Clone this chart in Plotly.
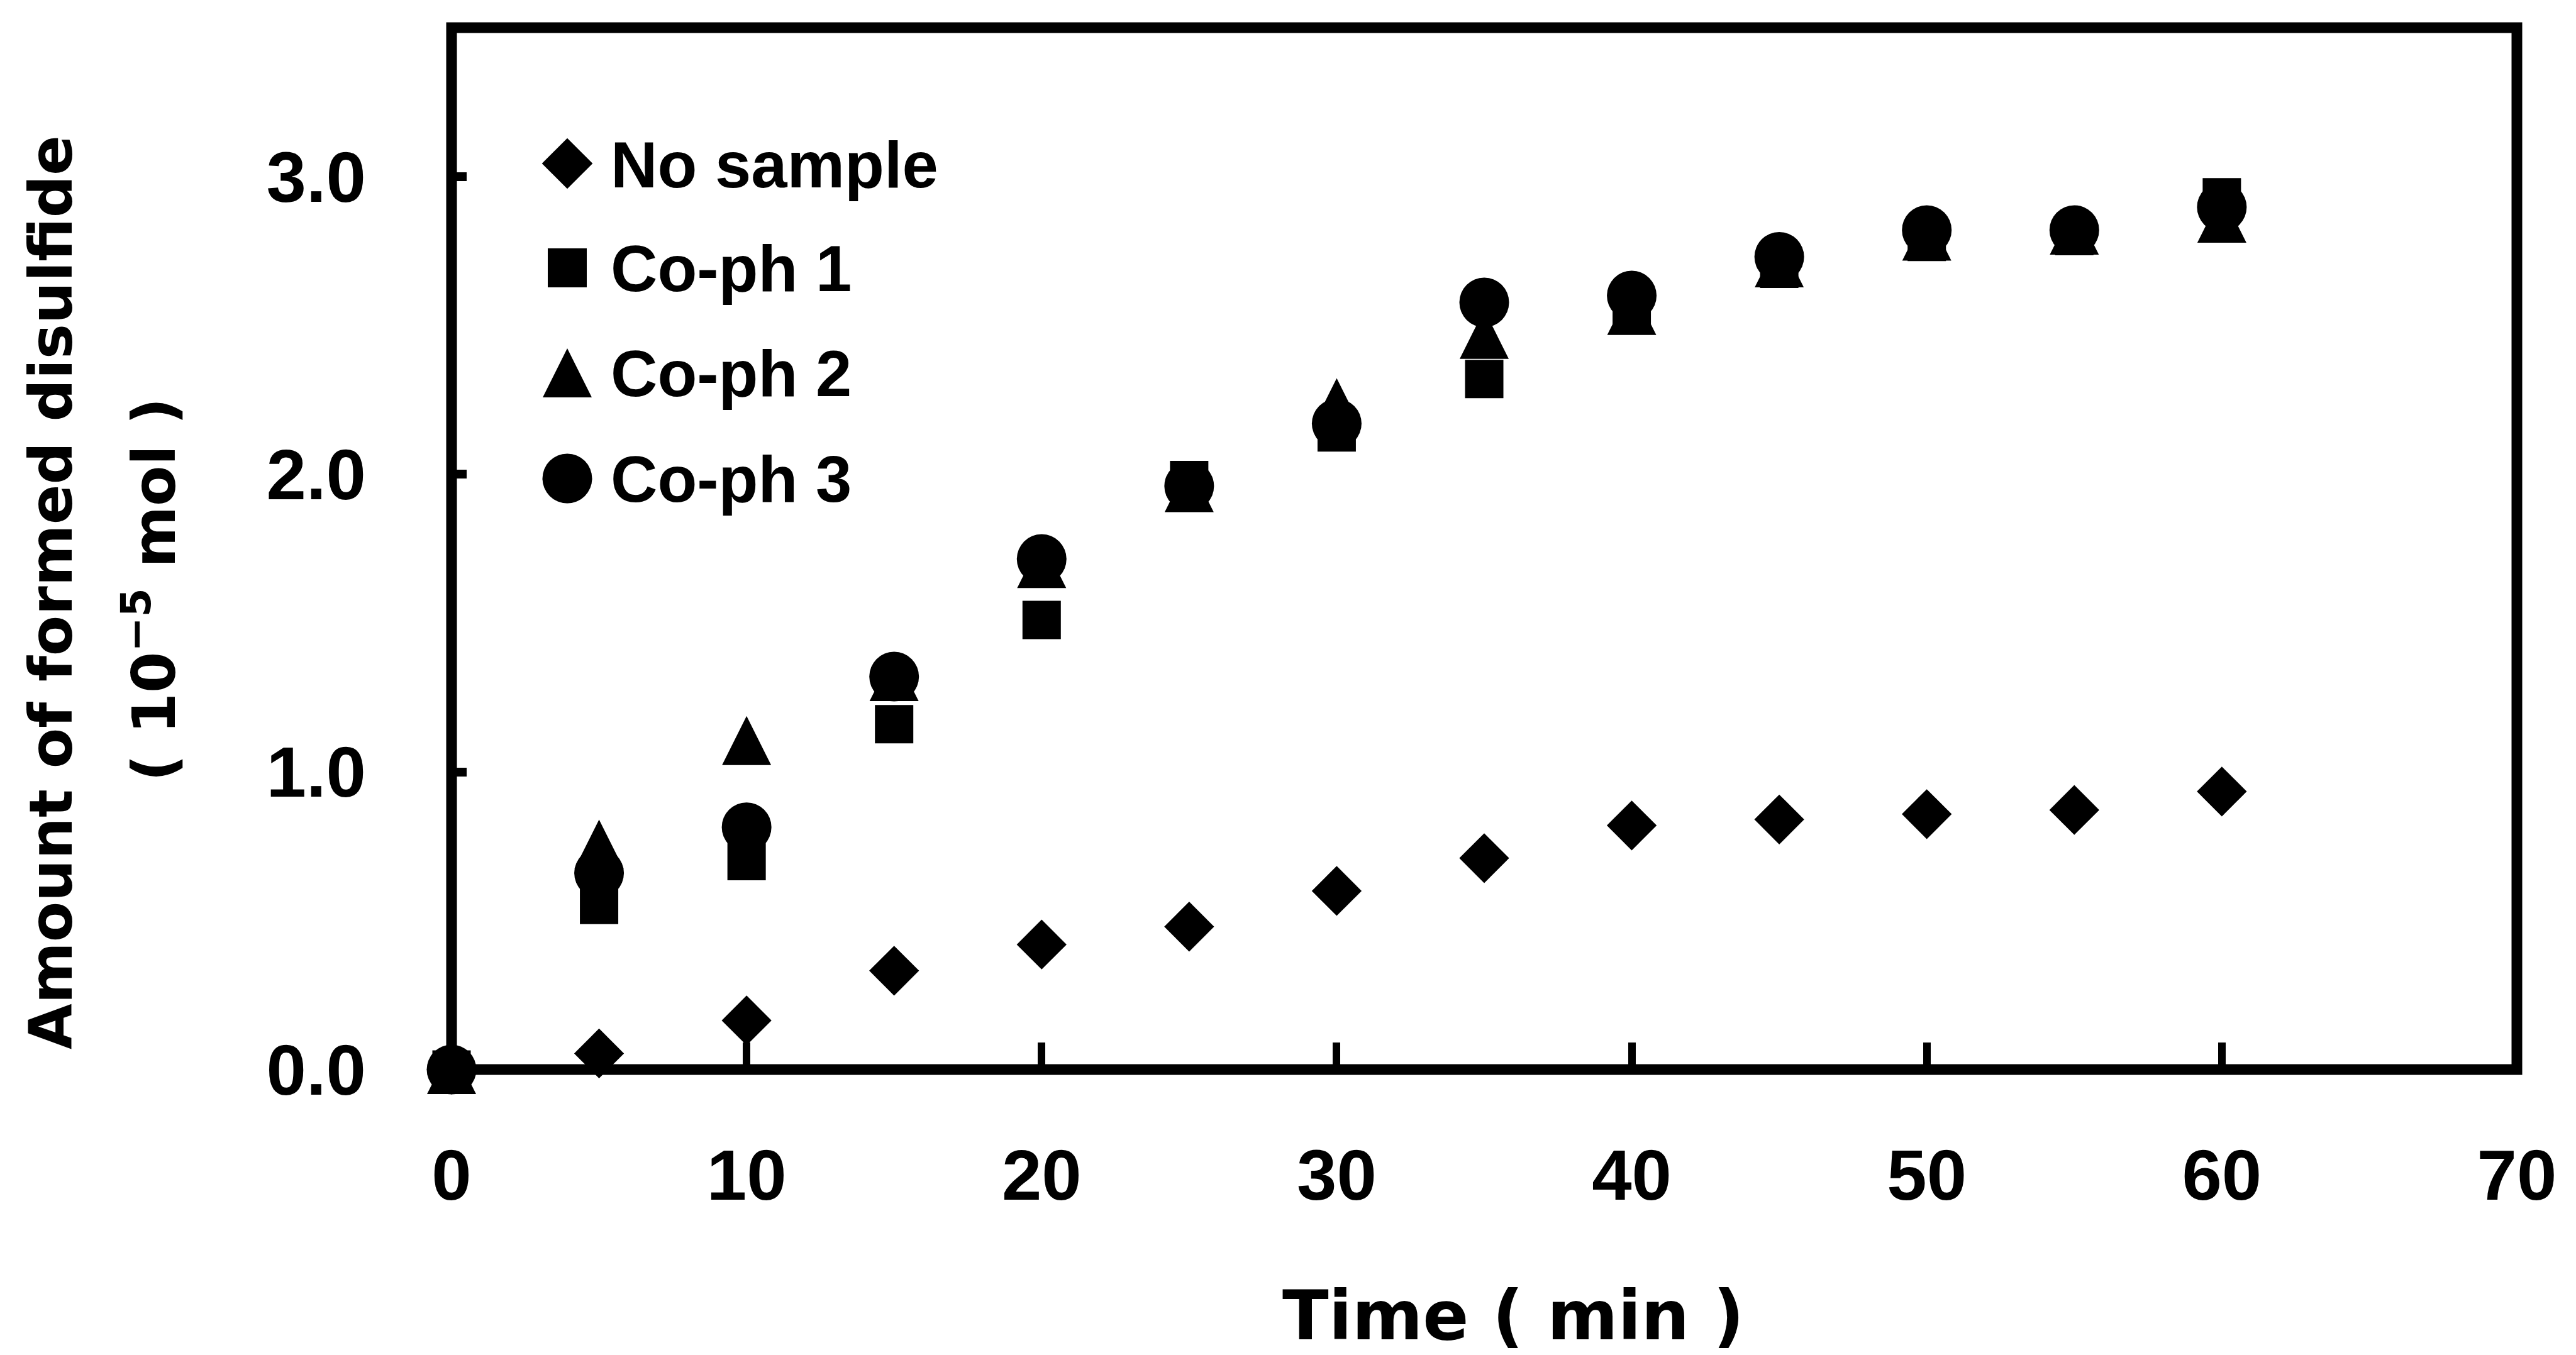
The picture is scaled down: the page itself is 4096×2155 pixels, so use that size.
import plotly.graph_objects as go

# ---------------- data ----------------
time_min = [0, 5, 10, 15, 20, 25, 30, 35, 40, 45, 50, 55, 60]
no_sample = [0.0, 0.054, 0.165, 0.332, 0.42, 0.48, 0.60, 0.71, 0.82, 0.84, 0.858, 0.872, 0.934]
co_ph_1 = [0.0, 0.553, 0.70, 1.16, 1.51, 1.98, 2.14, 2.32, 2.54, 2.69, 2.78, 2.80, 2.93]
co_ph_2 = [0.0, 0.757, 1.105, 1.32, 1.70, 1.955, 2.24, 2.47, 2.55, 2.71, 2.80, 2.82, 2.86]
co_ph_3 = [0.0, 0.66, 0.814, 1.32, 1.715, 1.96, 2.17, 2.577, 2.60, 2.73, 2.82, 2.82, 2.897]
series_names = ["No sample", "Co-ph 1", "Co-ph 2", "Co-ph 3"]

x_ticks = [0, 10, 20, 30, 40, 50, 60, 70]
y_ticks = [0, 1, 2, 3]
y_tick_labels = ["0.0", "1.0", "2.0", "3.0"]

x_title = "Time ( min )"
y_title_1 = "Amount of formed disulfide"
y_title_2 = "( 10<sup>\u22125</sup> mol )"

# ---------------- layout constants (pixels) ----------------
W, H = 4096, 2155
L, R, T, B = 718, 4002, 44, 1701
X_RANGE = [0, 70]
Y_RANGE = [0, 3.5]

SZ_DIAMOND = 61
SZ_SQUARE = 61
SZ_TRIANGLE = 78
SZ_CIRCLE = 79

px_per_unit_y = (B - T) / (Y_RANGE[1] - Y_RANGE[0])
tri_shift = (SZ_TRIANGLE / 2) / px_per_unit_y  # centre the arrow-shaped triangle on its value


def px(xp):
    return (xp - L) / (R - L)


def py(yp):
    return (B - yp) / (B - T)


TICK_FONT = dict(family="Liberation Sans", size=114, color="black", weight="bold")
LEG_FONT = dict(family="Liberation Sans", size=103, color="black", weight="bold")
TITLE_FONT_Y = dict(family="DejaVu Sans", size=94, color="black", weight="bold")
TITLE_FONT_X = dict(family="DejaVu Sans", size=108, color="black", weight="bold")

fig = go.Figure()

common = dict(mode="markers", cliponaxis=False, showlegend=False, hoverinfo="skip")
fig.add_trace(go.Scatter(x=time_min, y=no_sample, name=series_names[0],
                         marker=dict(symbol="diamond", size=SZ_DIAMOND, color="black"), **common))
fig.add_trace(go.Scatter(x=time_min, y=co_ph_1, name=series_names[1],
                         marker=dict(symbol="square", size=SZ_SQUARE, color="black"), **common))
fig.add_trace(go.Scatter(x=time_min, y=co_ph_2, name=series_names[2], yaxis="y3",
                         marker=dict(symbol="arrow-up", size=SZ_TRIANGLE, color="black",
                                     line=dict(width=0)), **common))
fig.add_trace(go.Scatter(x=time_min, y=co_ph_3, name=series_names[3],
                         marker=dict(symbol="circle", size=SZ_CIRCLE, color="black"), **common))

# ---------------- manual legend (pixel axes) ----------------
leg_x = 902
leg_text_x = 969
leg_y = [260, 426, 593, 761]
leg_symbols = ["diamond", "square", "arrow-up", "circle"]
leg_sizes = [SZ_DIAMOND + 1, SZ_SQUARE + 1, SZ_TRIANGLE, SZ_CIRCLE]
for i in range(4):
    yy = leg_y[i] - (leg_sizes[i] / 2 if leg_symbols[i] == "arrow-up" else 0)
    fig.add_trace(go.Scatter(x=[leg_x], y=[yy], xaxis="x2", yaxis="y2",
                             marker=dict(symbol=leg_symbols[i], size=leg_sizes[i], color="black",
                                         line=dict(width=0)),
                             **common))

annotations = []
for i, name in enumerate(series_names):
    annotations.append(dict(x=px(leg_text_x), y=py(leg_y[i] + 2), xref="paper", yref="paper",
                            text=name, showarrow=False, xanchor="left", yanchor="middle",
                            font=LEG_FONT))

annotations.append(dict(x=px(82), y=py(942), xref="paper", yref="paper", text=y_title_1,
                        textangle=-90, showarrow=False, xanchor="center", yanchor="middle",
                        font=TITLE_FONT_Y))
annotations.append(dict(x=px(239), y=py(938), xref="paper", yref="paper", text=y_title_2,
                        textangle=-90, showarrow=False, xanchor="center", yanchor="middle",
                        font=TITLE_FONT_Y))
annotations.append(dict(x=px(2406), y=py(2092), xref="paper", yref="paper", text=x_title,
                        showarrow=False, xanchor="center", yanchor="middle",
                        font=TITLE_FONT_X))

fig.update_layout(
    width=W, height=H,
    margin=dict(l=L, r=W - R, t=T, b=H - B, pad=0),
    paper_bgcolor="white", plot_bgcolor="white",
    xaxis=dict(range=X_RANGE, tickvals=x_ticks, ticktext=[str(v) for v in x_ticks],
               ticks="inside", ticklen=43, tickwidth=12, tickcolor="black",
               showline=False, showgrid=False, zeroline=False,
               tickfont=TICK_FONT, ticklabelstandoff=92),
    yaxis=dict(range=Y_RANGE, tickvals=y_ticks, ticktext=y_tick_labels,
               ticks="inside", ticklen=24, tickwidth=14, tickcolor="black",
               showline=False, showgrid=False, zeroline=False,
               tickfont=TICK_FONT, ticklabelstandoff=135),
    yaxis3=dict(range=[Y_RANGE[0] - tri_shift, Y_RANGE[1] - tri_shift], overlaying="y",
                visible=False, showgrid=False, zeroline=False),
    xaxis2=dict(range=[L, R], overlaying="x", visible=False, showgrid=False, zeroline=False),
    yaxis2=dict(range=[B, T], overlaying="y", visible=False, showgrid=False, zeroline=False),
    shapes=[dict(type="rect", xref="paper", yref="paper", x0=0, x1=1, y0=0, y1=1,
                 line=dict(color="black", width=17), layer="below")],
    annotations=annotations,
)

fig.write_html("out.html")
